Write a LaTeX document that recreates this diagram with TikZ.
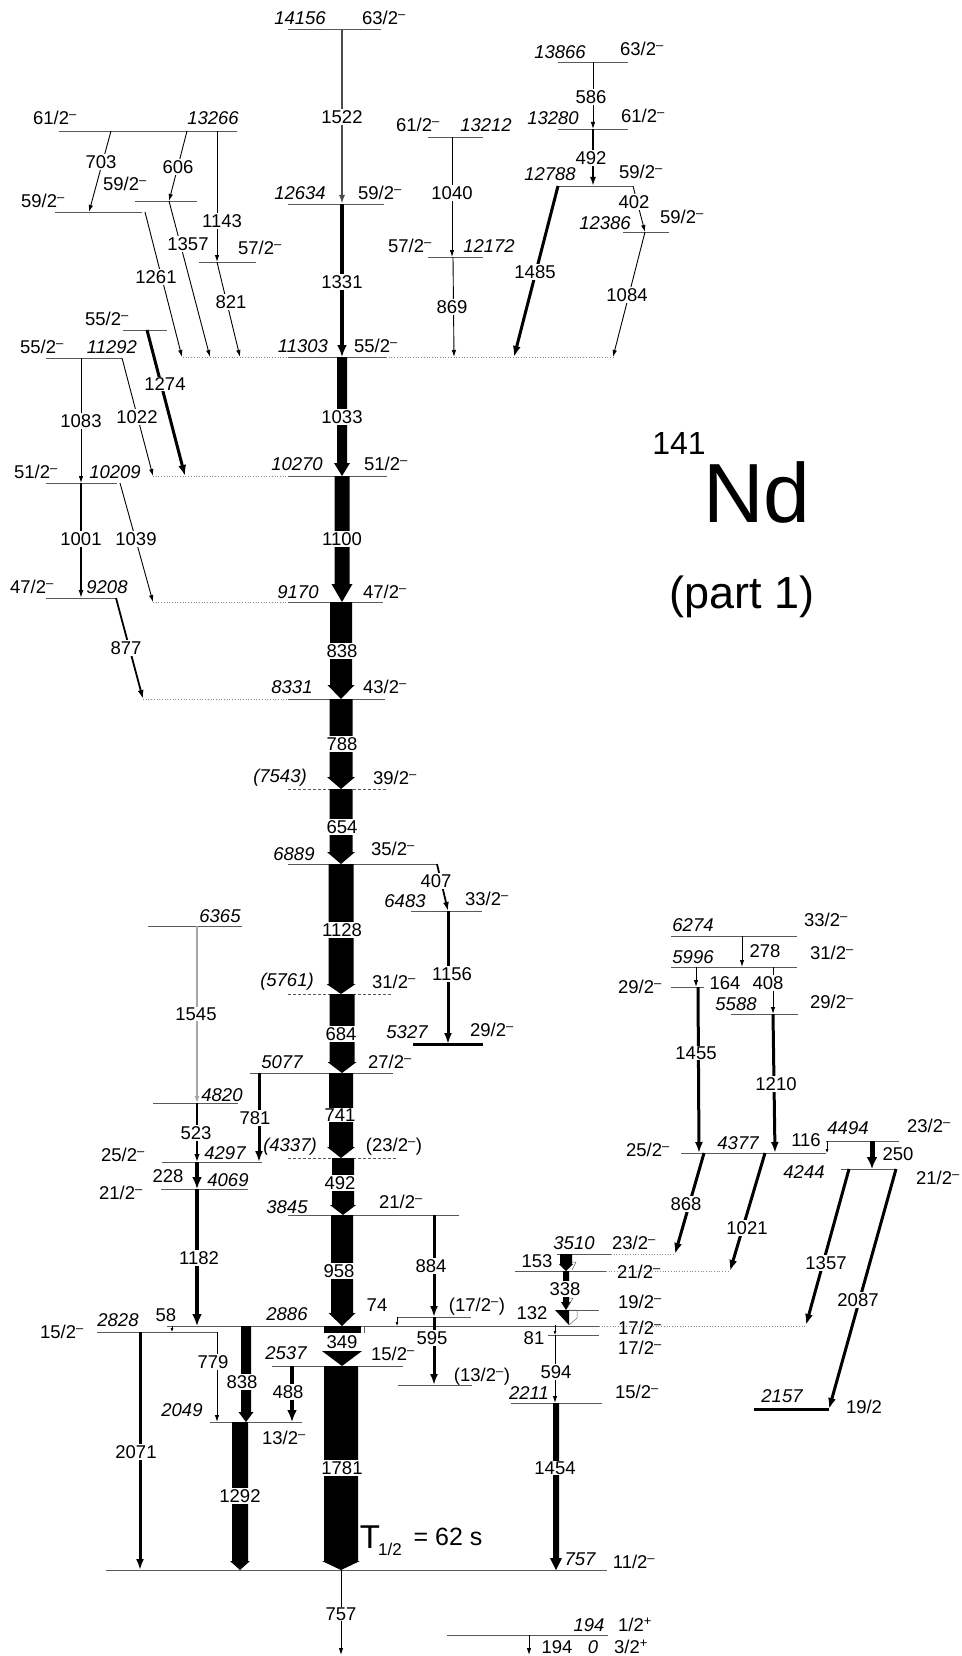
\documentclass[tikz,border=0pt]{standalone}
\usepackage{fontspec}
\setmainfont{Liberation Sans}
\usetikzlibrary{arrows.meta}
\newcommand\jneg{\textsuperscript{\textendash}}
\newcommand\jpos{\textsuperscript{+}}
% band arrow: x, ytop, ybot, half width, head half width, head length
\newcommand\band[6]{\fill ({#1-#4},#2) -- ({#1+#4},#2) -- ({#1+#4},{#3-#6}) -- ({#1+#5},{#3-#6}) -- (#1,#3) -- ({#1-#5},{#3-#6}) -- ({#1-#4},{#3-#6}) -- cycle;}
\begin{document}
\begin{tikzpicture}[x=1pt,y=-1pt,
  every node/.style={font=\fontsize{18.5}{20}\selectfont, inner sep=0.5pt},
  en/.style={font=\fontsize{18.5}{20}\selectfont\itshape},
  tl/.style={fill=white, inner sep=1pt},
  lev/.style={draw=black!65, line width=0.8pt},
  levdot/.style={draw=black!45, line width=0.7pt, dotted},
  levdash/.style={draw=black!65, line width=0.8pt, dash pattern=on 3pt off 2pt},
  levthick/.style={draw=black, line width=3pt},
  trs/.style={draw=black, line width=0.6pt, -{Latex[length=4pt,width=3pt]}},
  tr/.style={draw=black, line width=0.9pt, -{Latex[length=7pt,width=4.5pt]}},
  trm/.style={draw=black, line width=1.8pt, -{Latex[length=9pt,width=6pt]}},
  trk/.style={draw=black, line width=3pt, -{Latex[length=11pt,width=8pt]}},
  trh/.style={draw=black, line width=4pt, -{Latex[length=12pt,width=10pt]}},
  trg/.style={draw=black!70, line width=2pt, -{Latex[length=9pt,width=6pt]}},
  trlg/.style={draw=black!35, line width=1.2pt, -{Latex[length=7pt,width=5pt]}}
]
\useasboundingbox (0,0) rectangle (961,1656);

% ---------------- levels ----------------
\draw[lev] (288,29) -- (381,29);
\draw[lev] (558,62) -- (628,62);
\draw[lev] (59,131) -- (237,131);
\draw[lev] (558,129) -- (628,129);
\draw[lev] (428,137) -- (483,137);
\draw[lev] (559,186) -- (633,186);
\draw[lev] (288,204) -- (384,204);
\draw[lev] (55,212) -- (142,212);
\draw[lev] (135,201) -- (197,201);
\draw[lev] (623,232) -- (669,232);
\draw[lev] (428,257) -- (483,257);
\draw[lev] (199,262) -- (256,262);
\draw[lev] (123,330) -- (167,330);
\draw[lev] (288,357) -- (386,357);
\draw[levdot] (183,357) -- (288,357);
\draw[levdot] (386,357) -- (613,357);
\draw[lev] (46,358) -- (122,358);
\draw[lev] (288,476) -- (387,476);
\draw[levdot] (153,476) -- (288,476);
\draw[lev] (46,483) -- (117,483);
\draw[lev] (46,598) -- (116,598);
\draw[lev] (288,602) -- (383,602);
\draw[levdot] (153,602) -- (288,602);
\draw[lev] (288,699) -- (385,699);
\draw[levdot] (143,699) -- (288,699);
\draw[levdash] (288,789) -- (387,789);
\draw[lev] (288,864) -- (437,864);
\draw[lev] (411,911) -- (482,911);
\draw[lev] (148,926) -- (242,926);
\draw[lev] (671,936) -- (797,936);
\draw[lev] (671,967) -- (797,967);
\draw[lev] (671,987) -- (704,987);
\draw[levdash] (288,994) -- (393,994);
\draw[lev] (731,1014) -- (798,1014);
\draw[levthick] (413,1044) -- (483,1044);
\draw[lev] (250,1073) -- (393,1073);
\draw[lev] (153,1103) -- (238,1103);
\draw[lev] (826,1141) -- (899,1141);
\draw[lev] (681,1153) -- (826,1153);
\draw[levdash] (288,1158) -- (397,1158);
\draw[lev] (162,1162) -- (262,1162);
\draw[lev] (841,1169) -- (897,1169);
\draw[lev] (161,1189) -- (248,1189);
\draw[lev] (288,1215) -- (459,1215);
\draw[lev] (557,1254) -- (611,1254);
\draw[levdot] (611,1254) -- (675,1254);
\draw[lev] (515,1271) -- (606,1271);
\draw[levdot] (606,1271) -- (730,1271);
\draw[lev] (563,1310) -- (599,1310);
\draw[lev] (397,1317) -- (471,1317);
\draw[lev] (167,1326) -- (599,1326);
\draw[levdot] (599,1326) -- (806,1326);
\draw[lev] (97,1332) -- (217,1332);
\draw[lev] (548,1335) -- (599,1335);
\draw[lev] (272,1366) -- (403,1366);
\draw[lev] (398,1385) -- (472,1385);
\draw[lev] (511,1403) -- (602,1403);
\draw[levthick] (754,1409) -- (829,1409);
\draw[lev] (210,1422) -- (302,1422);
\draw[lev] (106,1570) -- (607,1570);
\draw[lev] (447,1635) -- (608,1635);

% ---------------- bands ----------------
\band{342}{357}{476}{5}{8}{13}
\band{342}{476}{602}{7.5}{10.5}{18}
\band{341}{602}{699}{11}{13.5}{14}
\band{341}{699}{789}{11.5}{14}{12}
\band{341}{789}{864}{11.5}{14}{12}
\band{341}{864}{994}{12.5}{14.5}{10}
\band{342}{994}{1073}{12.5}{14.5}{11}
\band{341}{1073}{1158}{12}{14}{11}
\band{343}{1158}{1215}{11}{13}{10}
\band{342}{1215}{1326}{11}{13.5}{13}
\band{341}{1366}{1570}{17}{19}{9}
\band{240}{1422}{1570}{8}{10}{9}
\band{246}{1326}{1422}{5}{7.5}{10}
\band{556}{1403}{1570}{3}{6}{12}
\band{566}{1254}{1271}{6}{7}{7}
\band{566}{1271}{1310}{3}{5}{8}
% 349 wide arrow
\fill (324,1326) rectangle (361,1333);
\fill (322,1351) -- (362,1351) -- (342,1366) -- cycle;
\draw[black!60, line width=0.5pt] (361,1326) -- (364,1326) -- (364,1333);
% 132 arrow with open part
\fill (555,1310) -- (569,1310) -- (569,1325) -- cycle;
\draw[black!60, line width=0.5pt] (569,1310) -- (577,1310) -- (577,1318) -- (569,1325);
\draw[black!60, line width=0.5pt] (572,1262) -- (576,1262) -- (572,1270);
\draw[black!60, line width=0.5pt] (569,1298) -- (573,1298) -- (568,1306);

% ---------------- transitions ----------------
\draw[trg] (342,29) -- (342,204);
\draw[trh] (342,204) -- (342,357);
\draw[tr] (111,131) -- (89,212);
\draw[tr] (187,131) -- (169,201);
\draw[tr] (217,131) -- (217,262);
\draw[tr] (145,212) -- (182,357);
\draw[tr] (169,201) -- (210,357);
\draw[tr] (217,262) -- (240,357);
\draw[tr] (452,137) -- (452,257);
\draw[tr] (453,257) -- (454,357);
\draw[tr] (593,62) -- (593,129);
\draw[trm] (593,129) -- (593,186);
\draw[trk] (558,186) -- (514,357);
\draw[tr] (633,186) -- (645,232);
\draw[tr] (645,232) -- (613,357);
\draw[tr] (81,358) -- (81,483);
\draw[tr] (122,358) -- (153,476);
\draw[trk] (147,330) -- (185,476);
\draw[draw=black, line width=1.3pt, -{Latex[length=8pt,width=5pt]}] (81,483) -- (81,598);
\draw[tr] (120,483) -- (153,602);
\draw[trm] (116,598) -- (143,699);
\draw[trm] (437,864) -- (448,911);
\draw[trk] (448,911) -- (448,1044);
\draw[trlg] (197,926) -- (197,1103);
\draw[tr] (742,936) -- (742,967);
\draw[tr] (696,967) -- (696,987);
\draw[tr] (773,967) -- (773,1014);
\draw[trk] (698,987) -- (699,1153);
\draw[trk] (773,1014) -- (775,1153);
\draw[trk] (259,1073) -- (259,1162);
\draw[draw=black, line width=1.4pt, -{Latex[length=8pt,width=5.5pt]}] (197,1103) -- (197,1162);
\draw[trh] (197,1162) -- (197,1189);
\draw[trh] (197,1189) -- (197,1326);
\draw[trs] (827,1141) -- (827,1153);
\draw[draw=black, line width=5pt, -{Latex[length=12pt,width=11pt]}] (872,1141) -- (872,1169);
\draw[trk] (704,1153) -- (675,1254);
\draw[trk] (765,1153) -- (730,1271);
\draw[trk] (849,1169) -- (806,1325);
\draw[trk] (896,1169) -- (829,1409);
\draw[trk] (434,1215) -- (434,1317);
\draw[trk] (434,1317) -- (434,1385);
\draw[trs] (397,1317) -- (397,1326);
\draw[trs] (555,1325) -- (555,1335);
\draw[tr] (555,1335) -- (555,1403);
\draw[trs] (172,1326) -- (172,1332);
\draw[tr] (217,1332) -- (217,1422);
\draw[trh] (292,1366) -- (292,1422);
\draw[trk] (140,1332) -- (140,1570);
\draw[tr] (341,1570) -- (341,1655);
\draw[tr] (529,1635) -- (529,1655);

% ---------------- transition labels ----------------
\node[tl] (t1522) at (342,117) {1522};
\node[tl] (t1331) at (342,282) {1331};
\node[tl] (t703) at (101,162) {703};
\node[tl] (t606) at (178,167) {606};
\node[tl] (t1143) at (222,221) {1143};
\node[tl] (t1261) at (156,277) {1261};
\node[tl] (t1357a) at (188,244) {1357};
\node[tl] (t821) at (231,302) {821};
\node[tl] (t1040) at (452,193) {1040};
\node[tl] (t869) at (452,307) {869};
\node[tl] (t586) at (591,97) {586};
\node[tl] (t492a) at (591,158) {492};
\node[tl] (t1485) at (535,272) {1485};
\node[tl] (t402) at (634,202) {402};
\node[tl] (t1084) at (627,295) {1084};
\node[tl] (t1083) at (81,421) {1083};
\node[tl] (t1022) at (137,417) {1022};
\node[tl] (t1274) at (165,384) {1274};
\node[tl] (t1033) at (342,417) {1033};
\node[tl] (t1001) at (81,539) {1001};
\node[tl] (t1039) at (136,539) {1039};
\node[tl] (t1100) at (342,539) {1100};
\node[tl] (t877) at (126,648) {877};
\node[tl] (t838a) at (342,651) {838};
\node[tl] (t788) at (342,744) {788};
\node[tl] (t654) at (342,827) {654};
\node[tl] (t407) at (436,881) {407};
\node[tl] (t1128) at (342,930) {1128};
\node[tl] (t684) at (341,1034) {684};
\node[tl] (t1156) at (452,974) {1156};
\node[tl] (t1545) at (196,1014) {1545};
\node (t278) at (765,951) {278};
\node (t164) at (725,983) {164};
\node[tl] (t408) at (768,983) {408};
\node[tl] (t1455) at (696,1053) {1455};
\node[tl] (t1210) at (776,1084) {1210};
\node[tl] (t741) at (340,1115) {741};
\node[tl] (t781) at (255,1118) {781};
\node[tl] (t523) at (196,1133) {523};
\node (t228) at (168,1176) {228};
\node[tl] (t492b) at (340,1183) {492};
\node[tl] (t1182) at (199,1258) {1182};
\node (t116) at (806,1140) {116};
\node (t250) at (898,1154) {250};
\node[tl] (t868) at (686,1204) {868};
\node[tl] (t1021) at (747,1228) {1021};
\node[tl] (t1357b) at (826,1263) {1357};
\node[tl] (t2087) at (858,1300) {2087};
\node[tl] (t958) at (339,1271) {958};
\node[tl] (t884) at (431,1266) {884};
\node[tl] (t595) at (432,1338) {595};
\node (t74) at (377,1305) {74};
\node (t153) at (537,1261) {153};
\node[tl] (t338) at (565,1289) {338};
\node (t132) at (532,1313) {132};
\node (t81) at (534,1338) {81};
\node[tl] (t594) at (556,1372) {594};
\node[tl] (t1454) at (555,1468) {1454};
\node (t58) at (166,1315) {58};
\node[tl, minimum width=37pt] (t349) at (342,1342) {349};
\node[tl] (t779) at (213,1362) {779};
\node[tl] (t838b) at (242,1382) {838};
\node[tl] (t488) at (288,1392) {488};
\node[tl] (t2071) at (136,1452) {2071};
\node[tl] (t1781) at (342,1468) {1781};
\node[tl] (t1292) at (240,1496) {1292};
\node[tl] (t757) at (341,1614) {757};
\node (t194) at (557,1647) {194};

% ---------------- level labels ----------------
\node[en] (e14156) at (300,18) {14156};  \node (s14156) at (384,18) {63/2\jneg};
\node[en] (e13866) at (560,52) {13866};  \node (s13866) at (642,49) {63/2\jneg};
\node (s13266) at (55,118) {61/2\jneg};  \node[en] (e13266) at (213,118) {13266};
\node[en] (e13280) at (553,118) {13280}; \node (s13280) at (643,116) {61/2\jneg};
\node (s13212) at (418,125) {61/2\jneg}; \node[en] (e13212) at (486,125) {13212};
\node[en] (e12788) at (550,174) {12788}; \node (s12788) at (641,172) {59/2\jneg};
\node[en] (e12634) at (300,193) {12634}; \node (s12634) at (380,193) {59/2\jneg};
\node (s59a) at (43,201) {59/2\jneg};
\node (s59b) at (125,184) {59/2\jneg};
\node[en] (e12386) at (605,223) {12386}; \node (s12386) at (682,217) {59/2\jneg};
\node (s12172) at (410,246) {57/2\jneg}; \node[en] (e12172) at (489,246) {12172};
\node (s57) at (260,248) {57/2\jneg};
\node (s55a) at (107,319) {55/2\jneg};
\node[en] (e11303) at (303,346) {11303}; \node (s11303) at (376,346) {55/2\jneg};
\node (s11292) at (42,347) {55/2\jneg};  \node[en] (e11292) at (112,347) {11292};
\node[en] (e10270) at (297,464) {10270}; \node (s10270) at (386,464) {51/2\jneg};
\node (s10209) at (36,472) {51/2\jneg};  \node[en] (e10209) at (115,472) {10209};
\node (s9208) at (32,587) {47/2\jneg};   \node[en] (e9208) at (107,587) {9208};
\node[en] (e9170) at (298,592) {9170};   \node (s9170) at (385,592) {47/2\jneg};
\node[en] (e8331) at (292,687) {8331};   \node (s8331) at (385,687) {43/2\jneg};
\node[en] (e7543) at (280,778) {(7543)}; \node (s7543) at (395,778) {39/2\jneg};
\node[en] (e6889) at (294,854) {6889};   \node (s6889) at (393,849) {35/2\jneg};
\node[en] (e6483) at (405,901) {6483};   \node (s6483) at (487,899) {33/2\jneg};
\node[en] (e6365) at (220,916) {6365};
\node[en] (e6274) at (693,925) {6274};   \node (s6274) at (826,920) {33/2\jneg};
\node[en] (e5996) at (693,957) {5996};   \node (s5996) at (832,953) {31/2\jneg};
\node (s29l) at (640,987) {29/2\jneg};
\node[en] (e5761) at (287,982) {(5761)}; \node (s5761) at (394,982) {31/2\jneg};
\node[en] (e5588) at (736,1004) {5588};  \node (s5588) at (832,1002) {29/2\jneg};
\node[en] (e5327) at (407,1032) {5327};  \node (s5327) at (492,1030) {29/2\jneg};
\node[en] (e5077) at (282,1062) {5077};  \node (s5077) at (390,1062) {27/2\jneg};
\node[en] (e4820) at (222,1095) {4820};
\node[en] (e4494) at (848,1128) {4494};  \node (s4494) at (929,1126) {23/2\jneg};
\node (s4377) at (648,1150) {25/2\jneg}; \node[en] (e4377) at (738,1143) {4377};
\node[en] (e4337) at (290,1147) {(4337)}; \node (s4337) at (394,1147) {(23/2\jneg)};
\node (s4297) at (123,1155) {25/2\jneg}; \node[en] (e4297) at (225,1153) {4297};
\node[en] (e4244) at (804,1172) {4244};  \node (s4244) at (938,1178) {21/2\jneg};
\node (s4069) at (121,1193) {21/2\jneg}; \node[en] (e4069) at (228,1180) {4069};
\node[en] (e3845) at (287,1207) {3845};  \node (s3845) at (401,1202) {21/2\jneg};
\node[en] (e3510) at (574,1243) {3510};  \node (s3510) at (634,1243) {23/2\jneg};
\node (s3357) at (639,1272) {21/2\jneg};
\node (s19) at (640,1302) {19/2\jneg};
\node (s17p) at (477,1307) {(17/2\jneg)};
\node[en] (e2886) at (287,1314) {2886};  \node (s2886) at (640,1328) {17/2\jneg};
\node (s2828) at (62,1332) {15/2\jneg};  \node[en] (e2828) at (118,1320) {2828};
\node (s17b) at (640,1348) {17/2\jneg};
\node[en] (e2537) at (286,1353) {2537};  \node (s2537) at (393,1354) {15/2\jneg};
\node (s13p) at (482,1377) {(13/2\jneg)};
\node[en] (e2211) at (529,1393) {2211};  \node (s2211) at (637,1392) {15/2\jneg};
\node[en] (e2157) at (782,1396) {2157};  \node (s2157) at (864,1407) {19/2};
\node[en] (e2049) at (182,1410) {2049};  \node (s2049) at (284,1438) {13/2\jneg};
\node[en] (e757) at (580,1559) {757};    \node (s757) at (634,1562) {11/2\jneg};
\node[en] (e194) at (589,1625) {194};    \node (s194) at (635,1625) {1/2\jpos};
\node[en] (e0) at (593,1647) {0};        \node (s0) at (631,1647) {3/2\jpos};

% ---------------- titles ----------------
\node (a141) at (679,443) {\fontsize{32}{32}\selectfont 141};
\node (nd) at (757,492) {\fontsize{84}{84}\selectfont Nd};
\node (part) at (742,597) {\fontsize{45}{45}\selectfont (part 1)};
\node (thalf) at (370,1537) {\fontsize{33}{33}\selectfont T};
\node (thsub) at (390,1549) {\fontsize{17}{17}\selectfont 1/2};
\node (thval) at (448,1537) {\fontsize{25}{25}\selectfont = 62 s};
\end{tikzpicture}
\end{document}
